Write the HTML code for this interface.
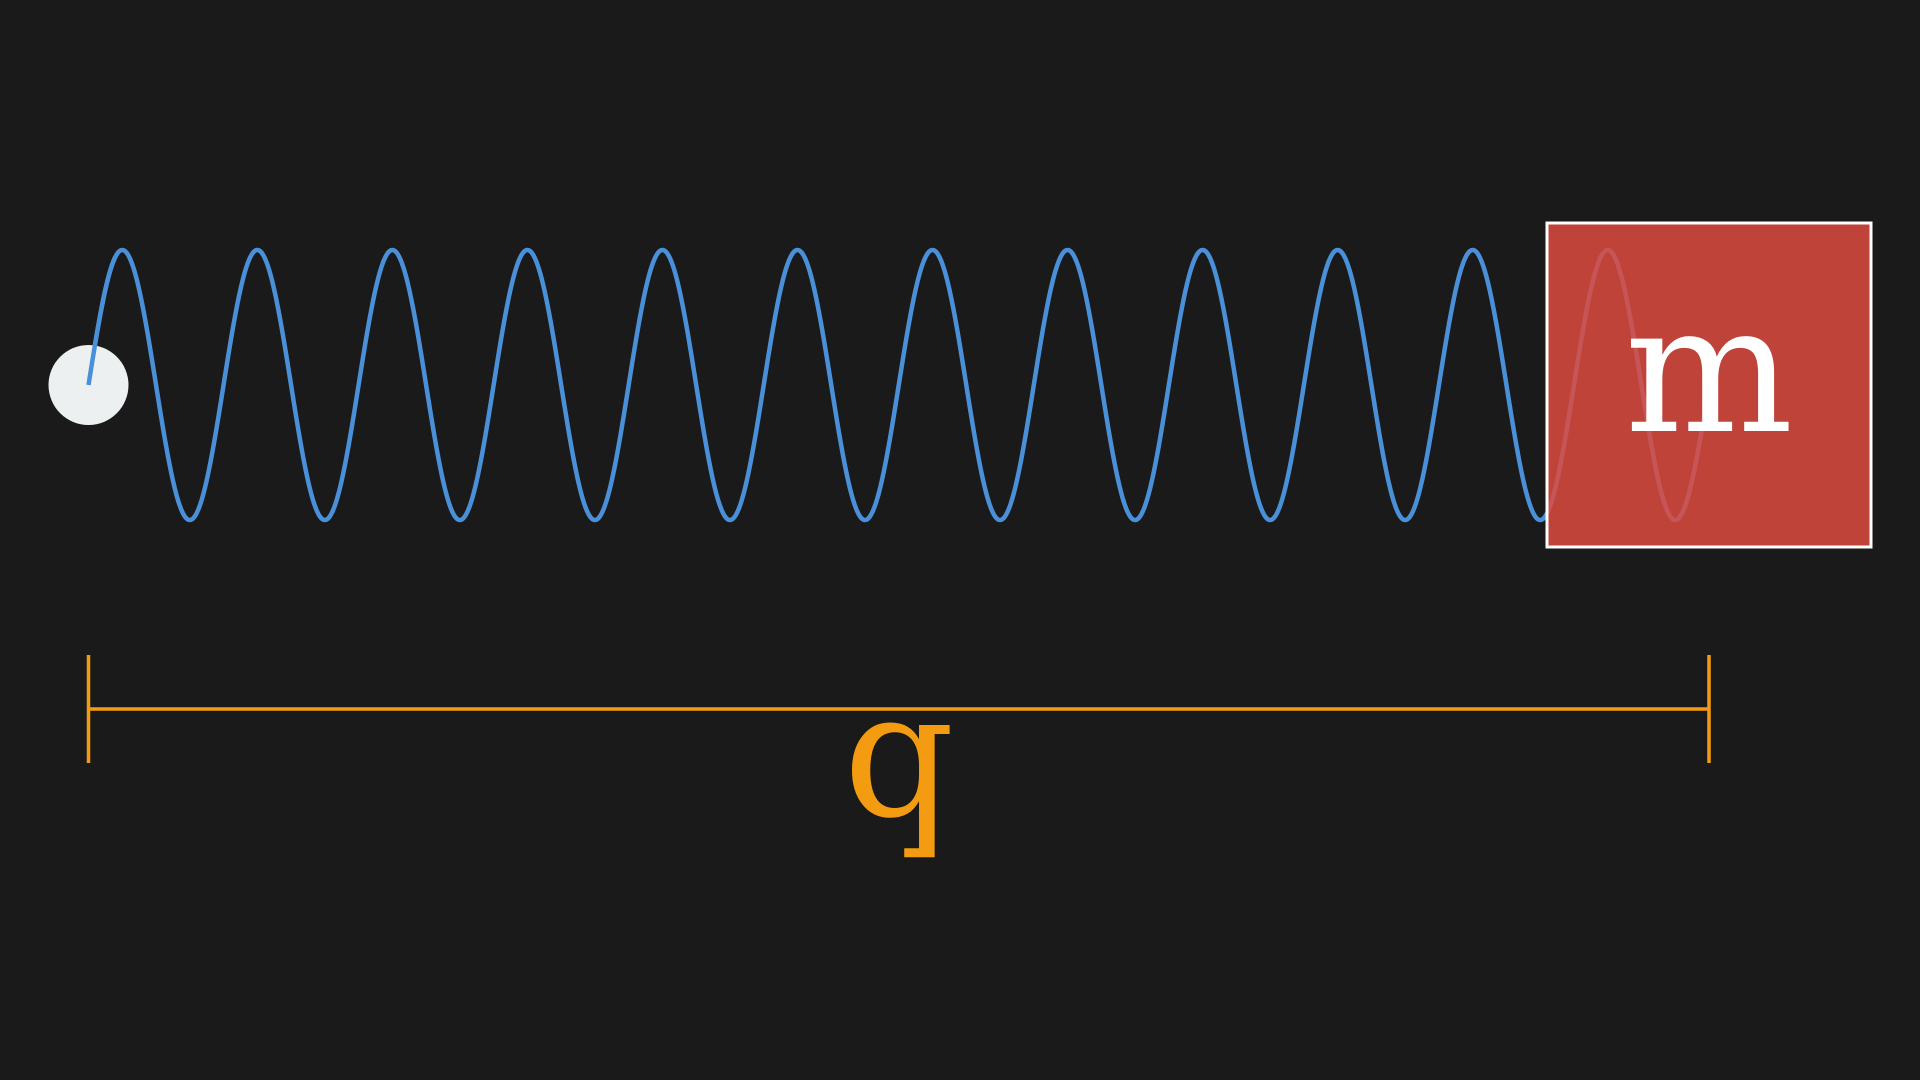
<!DOCTYPE html>
<html>
<head>
<meta charset="utf-8">
<style>
html,body{margin:0;padding:0;background:#1a1a1a;width:1920px;height:1080px;overflow:hidden;}
svg{display:block;}
</style>
</head>
<body>
<svg id="chart" width="1920" height="1080" viewBox="0 0 1920 1080" xmlns="http://www.w3.org/2000/svg">
<rect x="0" y="0" width="1920" height="1080" fill="#1a1a1a"/>
<g id="spring-layer"></g>
<circle cx="88.5" cy="385" r="40" fill="#ecf0f1"/>
<g id="anchor-stub"></g>
<rect x="1547" y="223" width="324" height="324" fill="#dd4b40" fill-opacity="0.85" stroke="#ffffff" stroke-width="3"/>
<text x="1709" y="431" text-anchor="middle" font-family="DejaVu Serif, serif" font-size="178" fill="#ffffff">m</text>
<g stroke="#f39c12" stroke-width="3.5">
<line x1="88.5" y1="709" x2="1709" y2="709"/>
<line x1="88.5" y1="655" x2="88.5" y2="763"/>
<line x1="1709" y1="655" x2="1709" y2="763"/>
</g>
<text transform="translate(899,725) scale(1,-1)" text-anchor="middle" font-family="DejaVu Serif, serif" font-size="174" fill="#f39c12">d</text>
</svg>
<script>
// spring parameters (data)
const springStart = [88.5];
const springEnd = [1709];
const springCoils = [12];
const springCenter = [385];
const springAmplitude = [135];

const layer = document.getElementById('spring-layer');
const x0 = springStart[0], x1 = springEnd[0], n = springCoils[0];
const cy = springCenter[0], amp = springAmplitude[0];
let d = '';
const steps = 2400;
for (let i = 0; i <= steps; i++) {
  const t = i / steps;
  const x = x0 + (x1 - x0) * t;
  const y = cy - amp * Math.sin(2 * Math.PI * n * t);
  d += (i === 0 ? 'M' : 'L') + x.toFixed(2) + ' ' + y.toFixed(2);
}
const p = document.createElementNS('http://www.w3.org/2000/svg', 'path');
p.setAttribute('d', d);
p.setAttribute('fill', 'none');
p.setAttribute('stroke', '#4a90d9');
p.setAttribute('stroke-width', '4.5');


layer.appendChild(p);
const s = document.createElementNS('http://www.w3.org/2000/svg', 'path');
let d2 = '';
for (let i = 0; i <= 40; i++) {
  const t = (i / 40) * (0.2 / n);
  const x = x0 + (x1 - x0) * t;
  const y = cy - amp * Math.sin(2 * Math.PI * n * t);
  d2 += (i === 0 ? 'M' : 'L') + x.toFixed(2) + ' ' + y.toFixed(2);
}
s.setAttribute('d', d2);
s.setAttribute('fill', 'none');
s.setAttribute('stroke', '#4a90d9');
s.setAttribute('stroke-width', '4.5');


document.getElementById('anchor-stub').appendChild(s);
</script>
</body>
</html>
